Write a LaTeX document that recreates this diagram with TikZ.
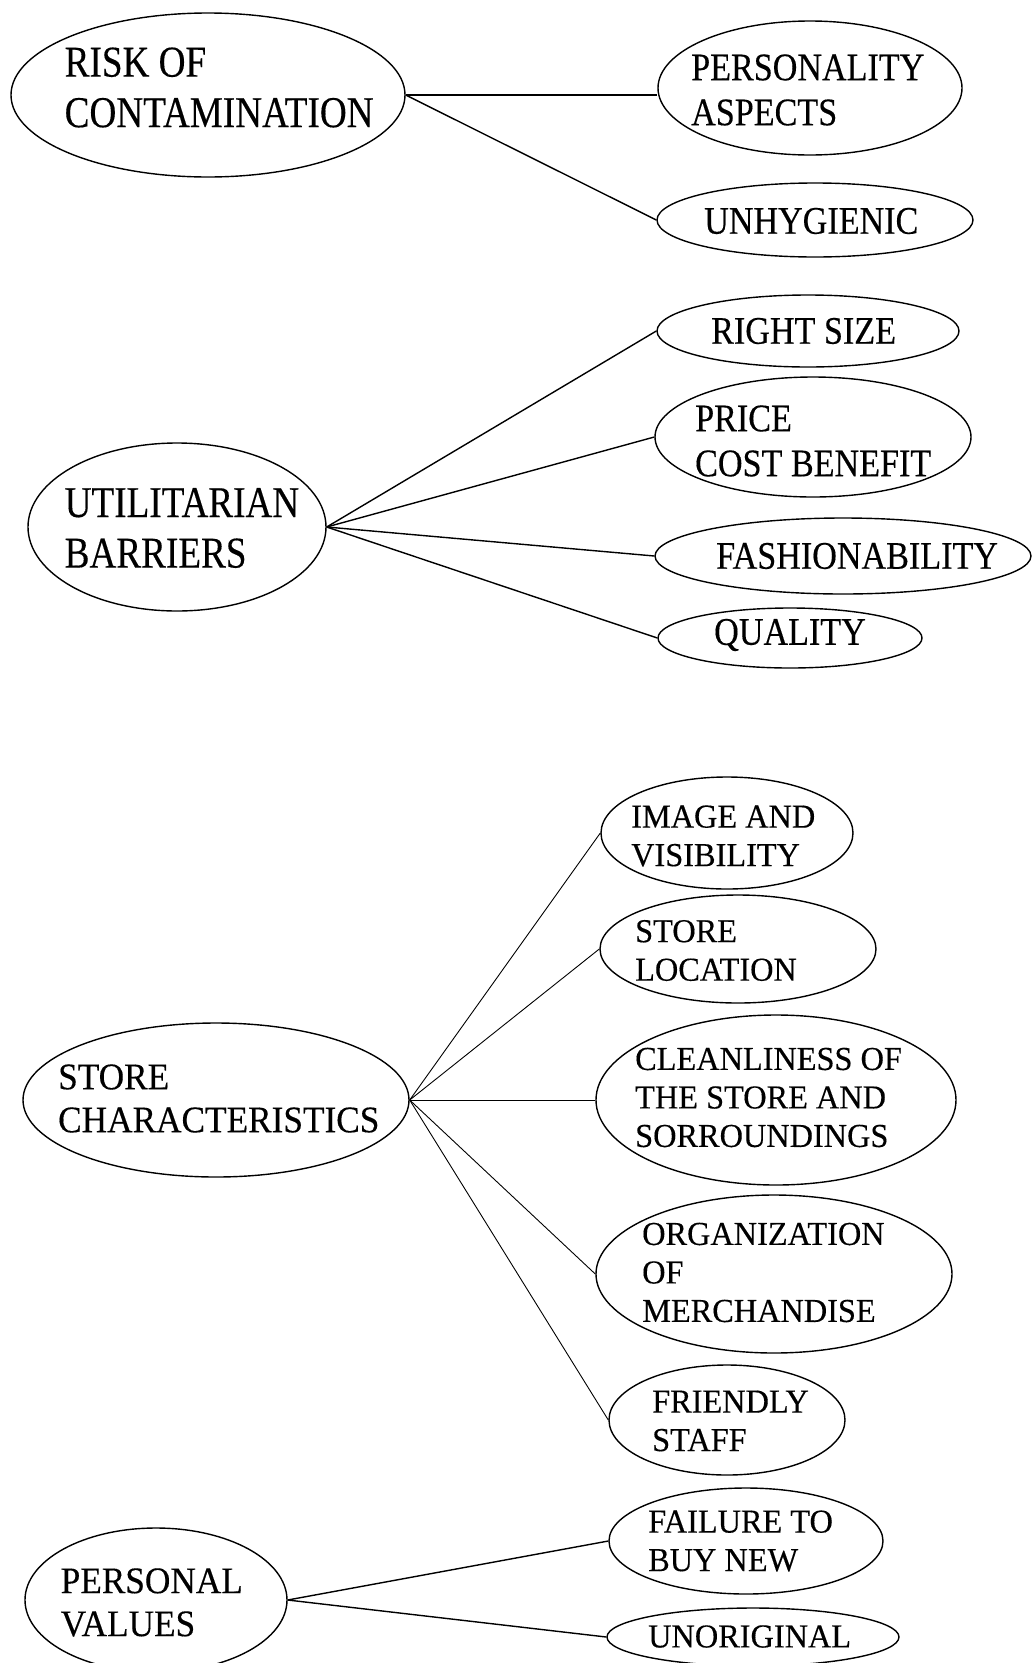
\documentclass[tikz,border=0pt]{standalone}
\usepackage{fontspec}
\setmainfont{Liberation Serif}
\newfontfamily\famTP[FakeStretch=0.845,FakeBold=0.3]{Liberation Serif}
\newfontfamily\famTC[FakeStretch=0.875,FakeBold=0.3]{Liberation Serif}
\newfontfamily\famBP[FakeStretch=0.94,FakeBold=0.3]{Liberation Serif}
\newfontfamily\famBC[FakeStretch=0.965,FakeBold=0.3]{Liberation Serif}
\newcommand\fntTP{\famTP\fontsize{44pt}{50.5pt}\selectfont}
\newcommand\fntTC{\famTC\fontsize{39pt}{45pt}\selectfont}
\newcommand\fntBP{\famBP\fontsize{37.5pt}{43pt}\selectfont}
\newcommand\fntBC{\famBC\fontsize{33.5pt}{38.5pt}\selectfont}
\usetikzlibrary{shapes.geometric}
\tikzset{
  ell/.style={ellipse, draw, line width=1.4pt, inner sep=0pt},
  txt/.style={anchor=west, inner sep=0pt, align=left},
  tp/.style={txt, font=\fntTP},
  tc/.style={txt, font=\fntTC},
  bp/.style={txt, font=\fntBP},
  bc/.style={txt, font=\fntBC},
  conn/.style={line width=1.4pt},
  thinconn/.style={line width=0.9pt}
}
\begin{document}
\begin{tikzpicture}[x=1pt, y=-1pt]
\clip (0,0) rectangle (1032,1663);
\fill[white] (0,0) rectangle (1032,1663);

% ---- group 1
\node[ell, minimum width=394pt, minimum height=164pt] (risk) at (208,95) {};
\node[ell, minimum width=304pt, minimum height=134pt] (pers) at (810,88) {};
\node[ell, minimum width=316pt, minimum height=74pt] (unhyg) at (815,220) {};
\node[tp] (risktxt) at (64.5,87.5) {RISK OF\\CONTAMINATION};
\node[tc] (perstxt) at (691,90) {PERSONALITY\\ASPECTS};
\node[tc] (unhytxt) at (704,221) {UNHYGIENIC};
\draw[conn] (risk.east) -- (risk.east -| pers.west);
\draw[conn] (risk.east) -- (unhyg.west);

% ---- group 2
\node[ell, minimum width=298pt, minimum height=168pt] (util) at (177,527) {};
\node[ell, minimum width=302pt, minimum height=72pt] (rsize) at (808,331) {};
\node[ell, minimum width=316pt, minimum height=120pt] (price) at (813,437) {};
\node[ell, minimum width=376pt, minimum height=76pt] (fash) at (843,556) {};
\node[ell, minimum width=264pt, minimum height=60pt] (qual) at (790,638) {};
\node[tp] (utiltxt) at (64.5,528) {UTILITARIAN\\BARRIERS};
\node[tc] (rsizetxt) at (711,331) {RIGHT SIZE};
\node[tc] (pricetxt) at (695,441) {PRICE\\COST BENEFIT};
\node[tc] (fashtxt) at (716,556) {FASHIONABILITY};
\node[tc] (qualtxt) at (714,635) {QUALITY};
\draw[conn] (util.east) -- (rsize.west);
\draw[conn] (util.east) -- (price.west);
\draw[conn] (util.east) -- (fash.west);
\draw[conn] (util.east) -- (qual.west);

% ---- group 3
\node[ell, minimum width=386pt, minimum height=154pt] (schar) at (216,1100) {};
\node[ell, minimum width=252pt, minimum height=112pt] (image) at (727,833) {};
\node[ell, minimum width=276pt, minimum height=108pt] (sloc) at (738,949) {};
\node[ell, minimum width=360pt, minimum height=170pt] (clean) at (776,1100) {};
\node[ell, minimum width=356pt, minimum height=158pt] (org) at (774,1274) {};
\node[ell, minimum width=236pt, minimum height=110pt] (friend) at (727,1420) {};
\node[bp] (schartxt) at (58,1098.5) {STORE\\CHARACTERISTICS};
\node[bc] (imagetxt) at (631,836) {IMAGE AND\\VISIBILITY};
\node[bc] (sloctxt) at (635,950.5) {STORE\\LOCATION};
\node[bc] (cleantxt) at (635,1097.5) {CLEANLINESS OF\\THE STORE AND\\SORROUNDINGS};
\node[bc] (orgtxt) at (642,1272.5) {ORGANIZATION\\OF\\MERCHANDISE};
\node[bc] (friendtxt) at (652,1421) {FRIENDLY\\STAFF};
\draw[thinconn] (schar.east) -- (image.west);
\draw[thinconn] (schar.east) -- (sloc.west);
\draw[thinconn] (schar.east) -- (clean.west);
\draw[thinconn] (schar.east) -- (org.west);
\draw[thinconn] (schar.east) -- (friend.west);

% ---- group 4
\node[ell, minimum width=262pt, minimum height=144pt] (persv) at (156,1600) {};
\node[ell, minimum width=274pt, minimum height=106pt] (fail) at (746,1541) {};
\node[ell, minimum width=292pt, minimum height=58pt] (unorig) at (753,1637) {};
\node[bp] (persvtxt) at (60.5,1602.5) {PERSONAL\\VALUES};
\node[bc] (failtxt) at (648,1541) {FAILURE TO\\BUY NEW};
\node[bc] (unorigtxt) at (648,1636.5) {UNORIGINAL};
\draw[conn] (persv.east) -- (fail.west);
\draw[conn] (persv.east) -- (unorig.west);
\end{tikzpicture}
\end{document}
